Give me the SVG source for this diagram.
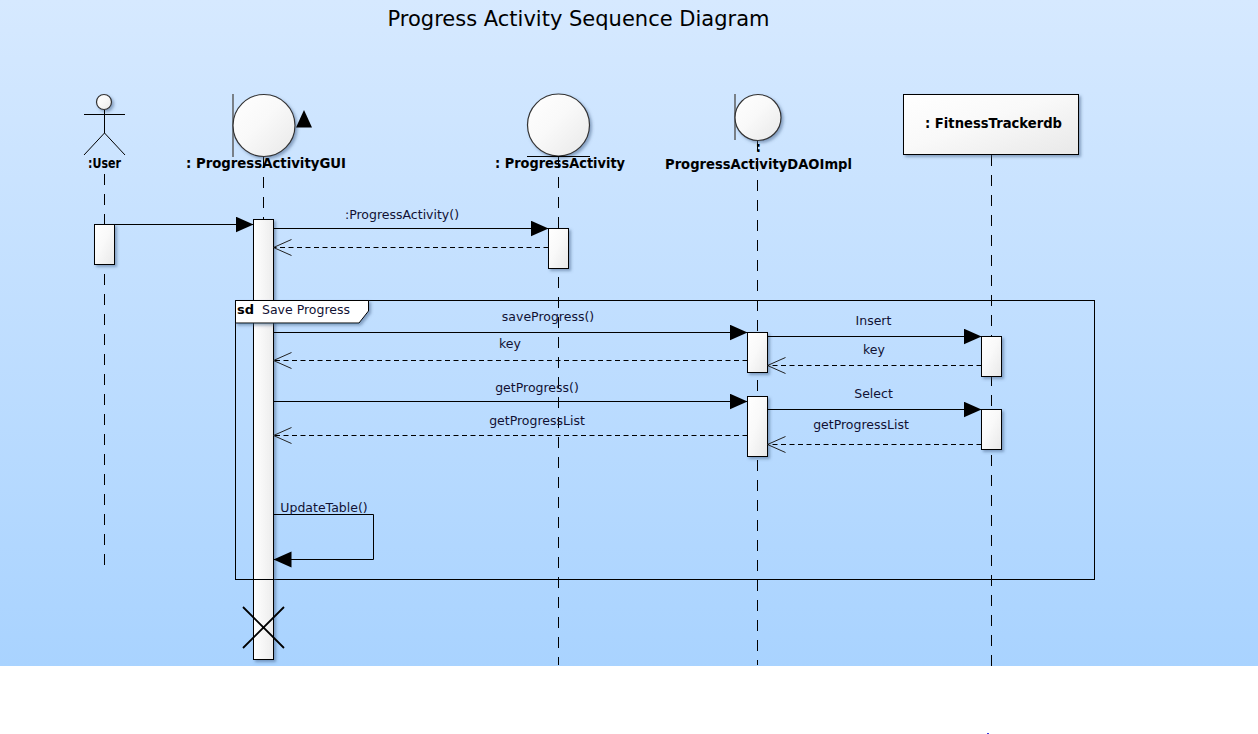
<svg xmlns="http://www.w3.org/2000/svg" width="1258" height="734" viewBox="0 0 1258 734">
<defs>
<linearGradient id="bg" x1="0" y1="0" x2="0" y2="1"><stop offset="0" stop-color="#d6e9ff"/><stop offset="1" stop-color="#a9d3ff"/></linearGradient>
<linearGradient id="fill" x1="0" y1="0" x2="1" y2="1"><stop offset="0" stop-color="#ffffff"/><stop offset="0.45" stop-color="#f9f9f9"/><stop offset="1" stop-color="#e8e8e8"/></linearGradient>
<linearGradient id="fillv" x1="0" y1="0" x2="1" y2="0"><stop offset="0" stop-color="#ffffff"/><stop offset="1" stop-color="#ececec"/></linearGradient>
<filter id="sh" x="-30%" y="-30%" width="170%" height="170%"><feDropShadow dx="2" dy="2" stdDeviation="1.6" flood-color="#3a5a80" flood-opacity="0.5"/></filter>
<marker id="solid" markerUnits="userSpaceOnUse" markerWidth="19" markerHeight="18" refX="18" refY="8" orient="auto"><path d="M0 0L18 8L0 16Z" fill="#000"/></marker>
<marker id="open" markerUnits="userSpaceOnUse" markerWidth="20" markerHeight="20" refX="19" refY="9" orient="auto"><path d="M1 1L19 9L1 17" fill="none" stroke="#222" stroke-width="1"/></marker>
</defs>
<style>
.name{font:bold 13.2px "DejaVu Sans",sans-serif;fill:#000;text-anchor:middle}
.lbl{font:12.5px "DejaVu Sans",sans-serif;fill:#111133;text-anchor:middle}
.life{stroke:#000;stroke-width:1;stroke-dasharray:11 9;fill:none}
.msg{stroke:#000;stroke-width:1;fill:none;marker-end:url(#solid)}
.ret{stroke:#000;stroke-width:1;stroke-dasharray:5 3.5;fill:none;marker-end:url(#open)}
.act{fill:url(#fill);stroke:#000;stroke-width:1;filter:url(#sh)}
.shape{fill:url(#fill);stroke:#333;stroke-width:1.2;filter:url(#sh)}
.bar{stroke:#555;stroke-width:1.4;fill:none}
.ink{stroke:#000;stroke-width:1;fill:none}
</style>
<rect width="1258" height="666" fill="url(#bg)"/>
<text x="578.5" y="26" font-family="DejaVu Sans, sans-serif" font-size="21" text-anchor="middle" fill="#000">Progress Activity Sequence Diagram</text>

<g id="frame">
<rect x="235.5" y="300.5" width="859" height="279" fill="none" stroke="#000"/>
</g>

<g id="lifelines">
<path class="life" d="M104.5 174V565"/>
<path class="life" d="M263.5 157V219"/>
<path class="life" d="M558.5 157V665"/>
<path class="life" d="M757.5 140V665"/>
<path class="life" d="M991.5 155V666"/>
</g>

<g id="user">
<circle class="shape" cx="104" cy="102" r="7.5" stroke="#000"/>
<path class="ink" d="M84 114.5H125M104.5 110V133L84 155M104.5 133L125 155"/>
<text class="name" x="104.5" y="168" textLength="33" lengthAdjust="spacingAndGlyphs">:User</text>
</g>
<g id="progressActivityGUI">
<path class="bar" d="M233 94V157"/>
<circle class="shape" cx="264" cy="125.5" r="31"/>
<path d="M296 127.5H312L304 110Z" fill="#000"/>
<text class="name" x="266" y="168" textLength="160" lengthAdjust="spacingAndGlyphs">: ProgressActivityGUI</text>
</g>
<g id="progressActivity">
<circle class="shape" cx="558.5" cy="125" r="31"/>
<path class="ink" d="M527 156.5H590"/>
<text class="name" x="560" y="168" textLength="130" lengthAdjust="spacingAndGlyphs">: ProgressActivity</text>
</g>
<g id="progressActivityDAOImpl">
<path class="bar" d="M735 94V140"/>
<circle class="shape" cx="758" cy="117.5" r="23"/>
<text class="name" x="758.5" y="152" fill="#300">:</text>
<text class="name" x="758.5" y="169" textLength="187" lengthAdjust="spacingAndGlyphs">ProgressActivityDAOImpl</text>
</g>
<g id="fitnessTrackerdb">
<rect x="903.5" y="94.5" width="175" height="60" fill="url(#fill)" stroke="#000" filter="url(#sh)"/>
<text class="name" x="993.5" y="128" textLength="137" lengthAdjust="spacingAndGlyphs">: FitnessTrackerdb</text>
</g>

<g id="activations">
<rect class="act" x="94.5" y="224.5" width="20" height="40"/>
<rect class="act" x="253.5" y="219.5" width="20" height="440" style="fill:url(#fillv)"/>
<rect class="act" x="548.5" y="228.5" width="20" height="40"/>
<rect class="act" x="747.5" y="332.5" width="20" height="40"/>
<rect class="act" x="747.5" y="396.5" width="20" height="60"/>
<rect class="act" x="981.5" y="336.5" width="20" height="40"/>
<rect class="act" x="981.5" y="409.5" width="20" height="40"/>
</g>

<g id="frame-overlay">
<path d="M253.5 579.5H273.5" stroke="#000"/>
<path d="M235.5 300.5H368.5V311L359 323H235.5Z" fill="#fff" stroke="#000" filter="url(#sh)"/>
<text x="237" y="314" font-family="DejaVu Sans, sans-serif" font-size="13" font-weight="bold" fill="#000">sd</text>
<text x="262" y="314" font-family="DejaVu Sans, sans-serif" font-size="12.5" fill="#111133">Save Progress</text>
</g>

<g id="connectors">
<path class="msg" d="M114.5 224.5H253.5"/>
<path class="msg" d="M273.5 228.5H548.5"/>
<path class="ret" d="M548.5 247.5H273.5"/>
<path class="msg" d="M273.5 332.5H747.5"/>
<path class="ret" d="M747.5 360.5H273.5"/>
<path class="msg" d="M273.5 401.5H747.5"/>
<path class="ret" d="M747.5 435.5H273.5"/>
<path class="msg" d="M767.5 336.5H981.5"/>
<path class="ret" d="M981.5 365.5H767.5"/>
<path class="msg" d="M767.5 409.5H981.5"/>
<path class="ret" d="M981.5 444.5H767.5"/>
<path class="msg" d="M273.5 514.5H373.5V559.5H273.5"/>
<path d="M243 607L284 648M284 607L243 648" stroke="#000" stroke-width="1.8" fill="none"/>
</g>

<g id="labels">
<text class="lbl" x="402" y="219">:ProgressActivity()</text>
<text class="lbl" x="548" y="321">saveProgress()</text>
<text class="lbl" x="510" y="348">key</text>
<text class="lbl" x="537" y="392">getProgress()</text>
<text class="lbl" x="537" y="425">getProgressList</text>
<text class="lbl" x="873.5" y="325">Insert</text>
<text class="lbl" x="874" y="354">key</text>
<text class="lbl" x="873.5" y="398">Select</text>
<text class="lbl" x="861" y="429">getProgressList</text>
<text class="lbl" x="324" y="512">UpdateTable()</text>
</g>
<rect x="987" y="733" width="2" height="1" fill="#3a3ae0"/>
</svg>
